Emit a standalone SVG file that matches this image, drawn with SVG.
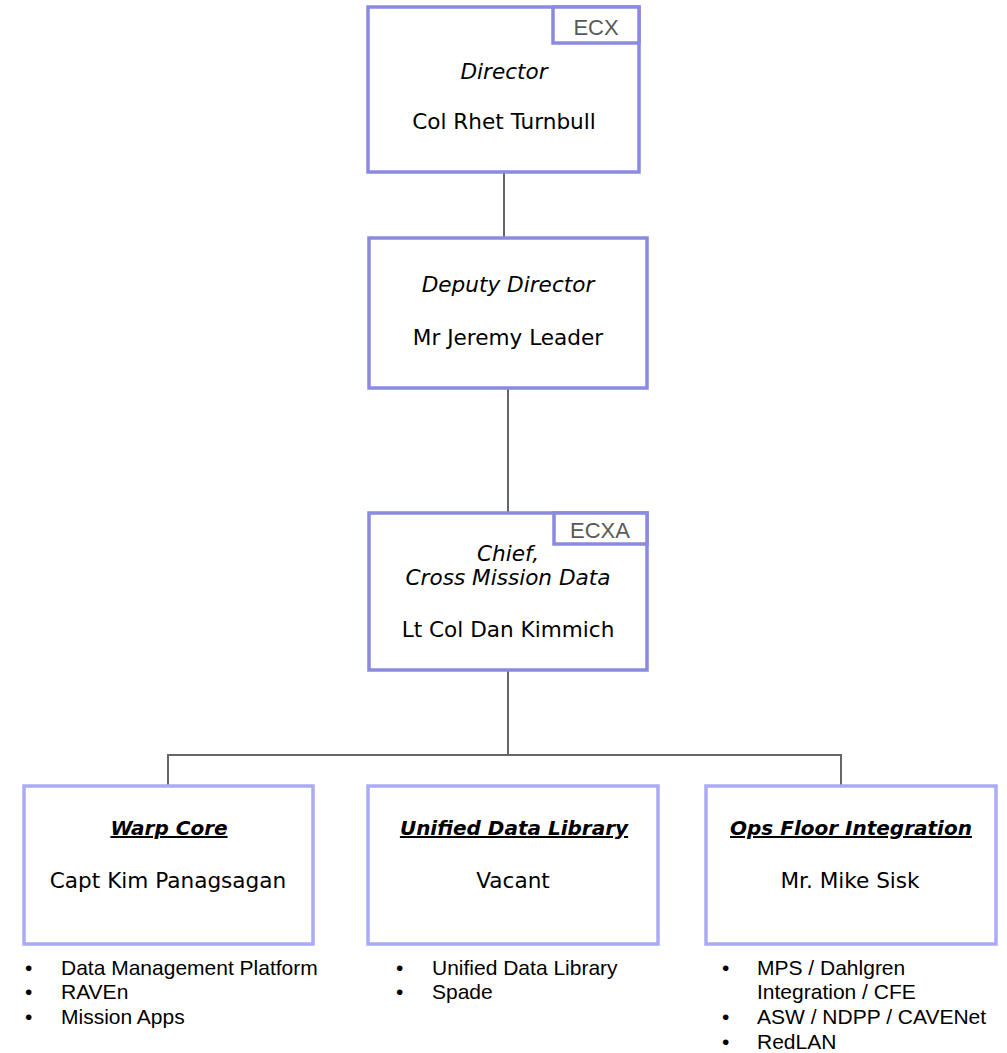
<svg xmlns="http://www.w3.org/2000/svg" width="1007" height="1053" viewBox="0 0 1007 1053">
<style>
.top{fill:#ffffff;stroke:#8a8ae0;stroke-width:3.5}
.bot{fill:#ffffff;stroke:#aaaaf6;stroke-width:3.5}
.tag{fill:#ffffff;stroke:#8a8ae0;stroke-width:3.5}
.tagt{font-family:"Liberation Sans",Arial,sans-serif;font-size:22px;fill:#595959;text-anchor:middle}
.ttl{font-family:"DejaVu Sans",Verdana,sans-serif;font-size:21.6px;font-style:italic;fill:#000;text-anchor:middle}
.nm{font-family:"DejaVu Sans",Verdana,sans-serif;font-size:21.6px;fill:#000;text-anchor:middle}
.bt{font-family:"DejaVu Sans",Verdana,sans-serif;font-size:20px;font-style:italic;font-weight:bold;fill:#000;text-anchor:middle;text-decoration:underline}
.bl{font-family:"Liberation Sans",Arial,sans-serif;font-size:21px;fill:#000}
.conn{fill:none;stroke:#666666;stroke-width:2}
</style>
<g id="connectors">
<line class="conn" x1="504" y1="172" x2="504" y2="238"/>
<line class="conn" x1="508" y1="388" x2="508" y2="513"/>
<line class="conn" x1="508" y1="670" x2="508" y2="755"/>
<polyline class="conn" points="168,786 168,755 841,755 841,786"/>
</g>
<g id="director">
<rect class="top" x="368" y="7" width="271" height="165"/>
<rect class="tag" x="553" y="7" width="86" height="36"/>
<text class="tagt" x="596" y="35">ECX</text>
<text class="ttl" x="504" y="79">Director</text>
<text class="nm" x="504" y="129">Col Rhet Turnbull</text>
</g>
<g id="deputy">
<rect class="top" x="369" y="238" width="278" height="150"/>
<text class="ttl" x="508" y="292">Deputy Director</text>
<text class="nm" x="508" y="345">Mr Jeremy Leader</text>
</g>
<g id="chief">
<rect class="top" x="369" y="513" width="278" height="157"/>
<rect class="tag" x="554" y="513" width="93" height="31"/>
<text class="tagt" x="600" y="538">ECXA</text>
<text class="ttl" x="508" y="561">Chief,</text>
<text class="ttl" x="508" y="585">Cross Mission Data</text>
<text class="nm" x="508" y="637">Lt Col Dan Kimmich</text>
</g>
<g id="warpcore">
<rect class="bot" x="24" y="786" width="289" height="158"/>
<text class="bt" x="169" y="835">Warp Core</text>
<text class="nm" x="168" y="888">Capt Kim Panagsagan</text>
</g>
<g id="udl">
<rect class="bot" x="368" y="786" width="290" height="158"/>
<text class="bt" x="514" y="835">Unified Data Library</text>
<text class="nm" x="513" y="888">Vacant</text>
</g>
<g id="opsfloor">
<rect class="bot" x="706" y="786" width="290" height="158"/>
<text class="bt" x="851" y="835">Ops Floor Integration</text>
<text class="nm" x="850" y="888">Mr. Mike Sisk</text>
</g>
<g id="warpcore-list">
<text class="bl" x="25" y="975">•</text><text class="bl" x="61" y="975">Data Management Platform</text>
<text class="bl" x="25" y="999">•</text><text class="bl" x="61" y="999">RAVEn</text>
<text class="bl" x="25" y="1024">•</text><text class="bl" x="61" y="1024">Mission Apps</text>
</g>
<g id="udl-list">
<text class="bl" x="396" y="975">•</text><text class="bl" x="432" y="975">Unified Data Library</text>
<text class="bl" x="396" y="999">•</text><text class="bl" x="432" y="999">Spade</text>
</g>
<g id="opsfloor-list">
<text class="bl" x="722" y="975">•</text><text class="bl" x="757" y="975">MPS / Dahlgren</text>
<text class="bl" x="757" y="999">Integration / CFE</text>
<text class="bl" x="722" y="1024">•</text><text class="bl" x="757" y="1024">ASW / NDPP / CAVENet</text>
<text class="bl" x="722" y="1049">•</text><text class="bl" x="757" y="1049">RedLAN</text>
</g>
</svg>
